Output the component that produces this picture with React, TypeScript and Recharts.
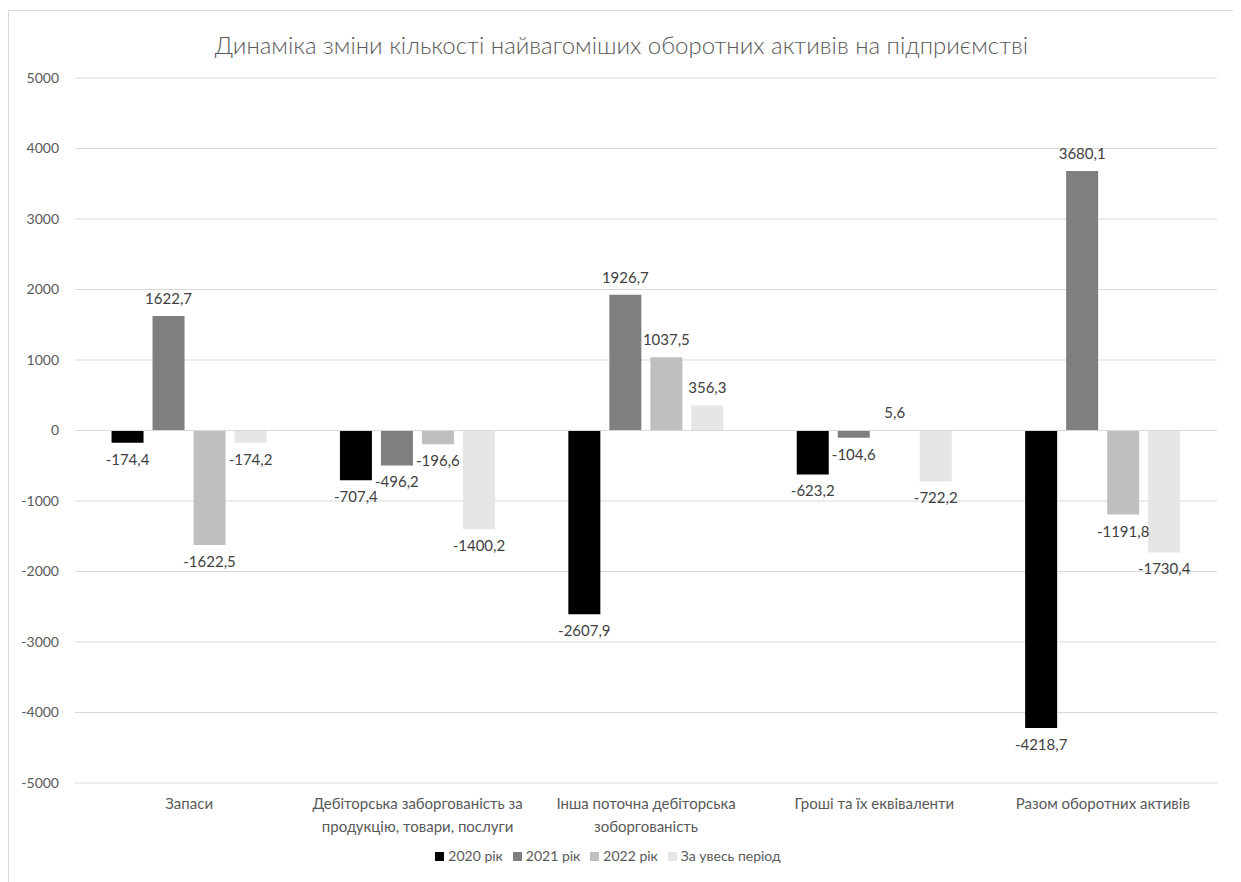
import React from "react";
import {
  BarChart,
  Bar,
  XAxis,
  YAxis,
  CartesianGrid,
  Legend,
  LabelList,
  ReferenceLine,
} from "recharts";

const categories = [
  "Запаси",
  "Дебіторська заборгованість за продукцію, товари, послуги",
  "Інша поточна дебіторська зоборгованість",
  "Гроші та їх еквіваленти",
  "Разом оборотних активів",
];

const y2020 = [-174.4, -707.4, -2607.9, -623.2, -4218.7];
const y2021 = [1622.7, -496.2, 1926.7, -104.6, 3680.1];
const y2022 = [-1622.5, -196.6, 1037.5, 5.6, -1191.8];
const total = [-174.2, -1400.2, 356.3, -722.2, -1730.4];

const yTicks = [-5000, -4000, -3000, -2000, -1000, 0, 1000, 2000, 3000, 4000, 5000];

const series = [
  { key: "y2020", name: "2020 рік", color: "#000000" },
  { key: "y2021", name: "2021 рік", color: "#7f7f7f" },
  { key: "y2022", name: "2022 рік", color: "#bfbfbf" },
  { key: "total", name: "За увесь період", color: "#e6e6e6" },
];

const data = categories.map((name, i) => ({
  name,
  y2020: y2020[i],
  y2021: y2021[i],
  y2022: y2022[i],
  total: total[i],
}));

const FONT = "Lato, 'Open Sans', sans-serif";

const fmt = (v: number) => String(v).replace(".", ",");

function wrap(text: string, max: number) {
  const words = text.split(" ");
  const lines: string[] = [];
  let cur = "";
  for (const w of words) {
    const next = cur ? cur + " " + w : w;
    if (next.length > max && cur) {
      lines.push(cur);
      cur = w;
    } else {
      cur = next;
    }
  }
  if (cur) lines.push(cur);
  return lines;
}

function CategoryTick(props: any) {
  const { x, y, payload } = props;
  const lines = wrap(payload.value, 30);
  return (
    <text x={x} y={y + 8} textAnchor="middle" fill="#595959" fontSize={15} fontFamily={FONT}>
      {lines.map((l, i) => (
        <tspan key={i} x={x} dy={i === 0 ? 10 : 23}>
          {l}
        </tspan>
      ))}
    </text>
  );
}

function ValueLabel(props: any) {
  const { x, y, width, height, value } = props;
  const top = Math.min(y, y + height);
  const bottom = Math.max(y, y + height);
  const cx = x + width / 2;
  const ty = value >= 0 ? top - 12 : bottom + 22;
  return (
    <text x={cx} y={ty} textAnchor="middle" fill="#404040" fontSize={15} fontFamily={FONT}>
      {fmt(value)}
    </text>
  );
}

export default function App() {
  return (
    <div
      style={{
        position: "relative",
        width: 1225,
        height: 890,
        marginTop: 2,
        border: "1px solid #d9d9d9",
        background: "#fff",
        fontFamily: FONT,
      }}
    >
      <div
        style={{
          position: "absolute",
          top: 19,
          left: 0,
          width: "100%",
          textAlign: "center",
          fontSize: 24,
          fontWeight: 300,
          color: "#595959",
        }}
      >
        Динаміка зміни кількості найвагоміших оборотних активів на підприємстві
      </div>
      <BarChart
        width={1225}
        height={890}
        data={data}
        margin={{ top: 67, right: 17, bottom: 26, left: 0 }}
        barCategoryGap="16%"
        barGap={9}
      >
        <CartesianGrid vertical={false} stroke="#d9d9d9" />
        <XAxis
          dataKey="name"
          axisLine={false}
          tickLine={false}
          height={62}
          interval={0}
          tick={<CategoryTick />}
        />
        <YAxis
          domain={[-5000, 5000]}
          ticks={yTicks}
          axisLine={false}
          tickLine={false}
          width={66}
          tickMargin={10}
          tick={{ fill: "#595959", fontSize: 14, fontFamily: FONT }}
        />
        <ReferenceLine y={0} stroke="#d9d9d9" />
        <Legend
          verticalAlign="bottom"
          height={30}
          iconType="square"
          iconSize={9}
          formatter={(v) => <span style={{ color: "#595959", fontSize: 14 }}>{v}</span>}
        />
        {series.map((s) => (
          <Bar key={s.key} dataKey={s.key} name={s.name} fill={s.color} isAnimationActive={false}>
            <LabelList dataKey={s.key} content={<ValueLabel />} />
          </Bar>
        ))}
      </BarChart>
    </div>
  );
}
